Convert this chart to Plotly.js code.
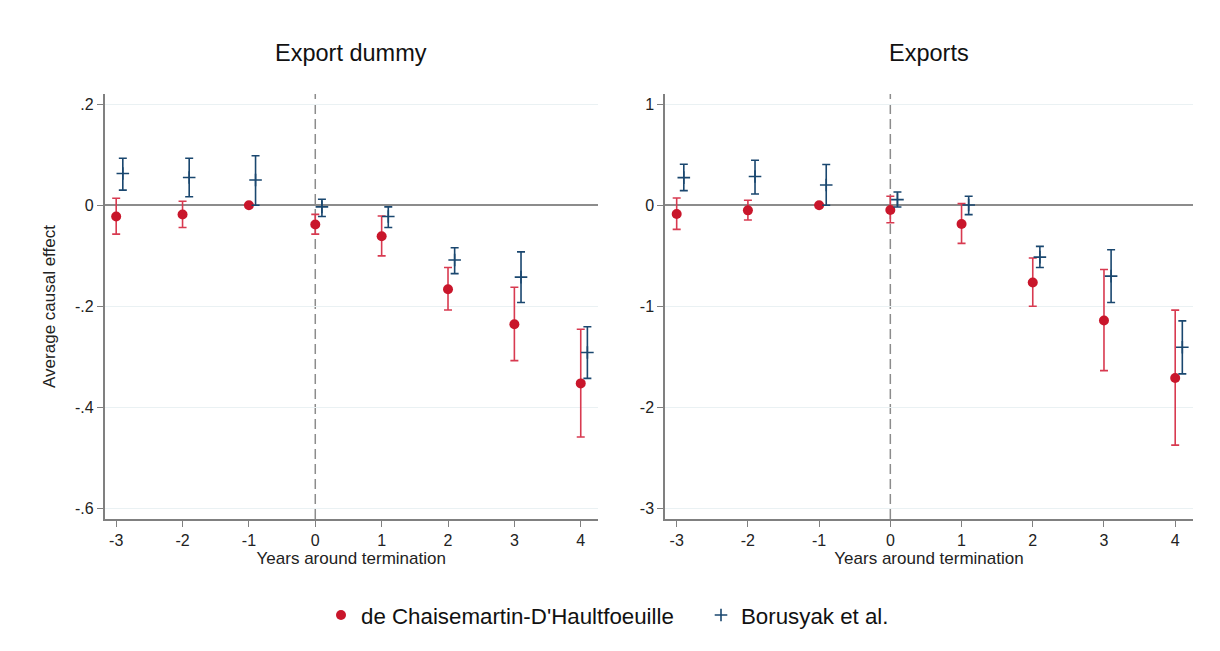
<!DOCTYPE html>
<html>
<head>
<meta charset="utf-8">
<script src="https://cdn.plot.ly/plotly-3.0.1.min.js"></script>
<style>html,body{margin:0;padding:0;background:#fff;}#chart{width:1220px;height:651px;}</style>
</head>
<body>
<div id="chart"></div>
<script>
// ---- data ----
const years = [-3, -2, -1, 0, 1, 2, 3, 4];

// Panel 1: Export dummy
const dummyDcdhEst = [-0.022, -0.018, 0.000, -0.038, -0.061, -0.166, -0.235, -0.352];
const dummyDcdhLo  = [-0.057, -0.044, null, -0.057, -0.100, -0.207, -0.307, -0.458];
const dummyDcdhHi  = [ 0.014,  0.008, null, -0.018, -0.021, -0.123, -0.162, -0.245];
const dummyBjsEst  = [ 0.063,  0.055, 0.050, -0.003, -0.022, -0.108, -0.142, -0.291];
const dummyBjsLo   = [ 0.030,  0.017, 0.000, -0.022, -0.044, -0.135, -0.192, -0.342];
const dummyBjsHi   = [ 0.093,  0.093, 0.098,  0.012, -0.003, -0.084, -0.092, -0.240];

// Panel 2: Exports
const expDcdhEst = [-0.086, -0.050, 0.000, -0.046, -0.185, -0.762, -1.139, -1.706];
const expDcdhLo  = [-0.238, -0.145, null, -0.173, -0.376, -0.997, -1.634, -2.370];
const expDcdhHi  = [ 0.072,  0.050, null,  0.089,  0.017, -0.521, -0.634, -1.036];
const expBjsEst  = [ 0.274,  0.284, 0.200,  0.056,  0.003, -0.512, -0.700, -1.403];
const expBjsLo   = [ 0.145,  0.112, 0.000, -0.017, -0.092, -0.614, -0.960, -1.666];
const expBjsHi   = [ 0.406,  0.446, 0.403,  0.132,  0.089, -0.406, -0.439, -1.142];

const panelTitles = ["Export dummy", "Exports"];
const xTitle = "Years around termination";
const yTitle = "Average causal effect";
const seriesNames = ["de Chaisemartin-D'Haultfoeuille", "Borusyak et al."];
const dummyTickVals = [-0.6, -0.4, -0.2, 0, 0.2];
const dummyTickText = ["-.6", "-.4", "-.2", "0", ".2"];
const expTickVals = [-3, -2, -1, 0, 1];
const expTickText = ["-3", "-2", "-1", "0", "1"];

// ---- styling ----
const RED = '#c9162b';
const RED_CI = '#d83a50';
const BLUE = '#1a476f';
const FONT = 'Liberation Sans, Arial, Helvetica, sans-serif';
const BJS_OFFSET = 0.1;

function errs(est, lo, hi) {
  return {
    type: 'data', symmetric: false, visible: true,
    array: est.map((e, i) => hi[i] === null ? null : hi[i] - e),
    arrayminus: est.map((e, i) => lo[i] === null ? null : e - lo[i])
  };
}

function dcdh(est, lo, hi, xa, ya, show) {
  const ey = errs(est, lo, hi);
  ey.color = RED_CI; ey.thickness = 1.6; ey.width = 4;
  return {
    type: 'scatter', mode: 'markers', name: seriesNames[0], legendgroup: 'a',
    showlegend: show, x: years, y: est, xaxis: xa, yaxis: ya,
    marker: {symbol: 'circle', size: 10, color: RED},
    error_y: ey, hoverinfo: 'x+y'
  };
}
function bjs(est, lo, hi, xa, ya, show) {
  const ey = errs(est, lo, hi);
  ey.color = BLUE; ey.thickness = 1.6; ey.width = 4;
  return {
    type: 'scatter', mode: 'markers', name: seriesNames[1], legendgroup: 'b',
    showlegend: show, x: years.map(v => v + BJS_OFFSET), y: est, xaxis: xa, yaxis: ya,
    marker: {symbol: 'cross-thin', size: 9, color: BLUE, line: {color: BLUE, width: 1.6}},
    error_y: ey, hoverinfo: 'x+y'
  };
}

const data = [
  dcdh(dummyDcdhEst, dummyDcdhLo, dummyDcdhHi, 'x', 'y', true),
  bjs(dummyBjsEst, dummyBjsLo, dummyBjsHi, 'x', 'y', true),
  dcdh(expDcdhEst, expDcdhLo, expDcdhHi, 'x2', 'y2', false),
  bjs(expBjsEst, expBjsLo, expBjsHi, 'x2', 'y2', false)
];

const W = 1220, H = 651;
const px = v => v / W, py = v => (H - v) / H;

const axBase = {
  showline: true, linecolor: '#808080', linewidth: 1.5,
  ticks: 'outside', ticklen: 6, tickwidth: 1.3, tickcolor: '#808080',
  tickfont: {family: FONT, size: 16, color: '#222'},
  zeroline: false, fixedrange: true
};

const xaBase = Object.assign({}, axBase, {
  tickvals: years, ticktext: years.map(String), showgrid: false,
  title: {text: xTitle, font: {family: FONT, size: 17, color: '#222'}, standoff: 2},
  automargin: false
});
const yaBase = Object.assign({}, axBase, {
  showgrid: true, gridcolor: '#eaf1f3', gridwidth: 1,
  zeroline: true, zerolinecolor: '#8c8c8c', zerolinewidth: 1.6,
  automargin: false
});

const layout = {
  width: W, height: H,
  margin: {l: 0, r: 0, t: 0, b: 0},
  paper_bgcolor: '#fff', plot_bgcolor: '#fff',
  font: {family: FONT, color: '#222'},
  showlegend: true,
  legend: {orientation: 'h', x: px(321), xanchor: 'left', y: py(615), yanchor: 'middle',
           font: {family: FONT, size: 22.3, color: '#111'}, itemwidth: 30,
           entrywidth: 335, entrywidthmode: 'pixels'},
  xaxis: Object.assign({}, xaBase, {domain: [px(104.5), px(598)], range: [-3.176, 4.26], anchor: 'y'}),
  yaxis: Object.assign({}, yaBase, {domain: [py(519), py(94)], range: [-0.62, 0.22],
           tickvals: dummyTickVals, ticktext: dummyTickText, anchor: 'x',
           title: {text: yTitle, font: {family: FONT, size: 17, color: '#222'}, standoff: 15}}),
  xaxis2: Object.assign({}, xaBase, {domain: [px(665), px(1193)], range: [-3.164, 4.25], anchor: 'y2'}),
  yaxis2: Object.assign({}, yaBase, {domain: [py(519), py(94)], range: [-3.1, 1.1],
           tickvals: expTickVals, ticktext: expTickText, anchor: 'x2'}),
  shapes: [
    {type: 'line', xref: 'x', yref: 'y domain', x0: 0, x1: 0, y0: 0, y1: 1, layer: 'below',
     line: {color: '#8c8c8c', width: 1.5, dash: '10px,5px'}},
    {type: 'line', xref: 'x2', yref: 'y2 domain', x0: 0, x1: 0, y0: 0, y1: 1, layer: 'below',
     line: {color: '#8c8c8c', width: 1.5, dash: '10px,5px'}}
  ],
  annotations: [
    {text: panelTitles[0], xref: 'x domain', yref: 'paper', x: 0.5, y: py(53), xanchor: 'center', yanchor: 'middle',
     showarrow: false, font: {family: FONT, size: 23.5, color: '#111'}},
    {text: panelTitles[1], xref: 'x2 domain', yref: 'paper', x: 0.5, y: py(53), xanchor: 'center', yanchor: 'middle',
     showarrow: false, font: {family: FONT, size: 23.5, color: '#111'}}
  ]
};

Plotly.newPlot('chart', data, layout, {displayModeBar: false, staticPlot: false});
</script>
</body>
</html>
